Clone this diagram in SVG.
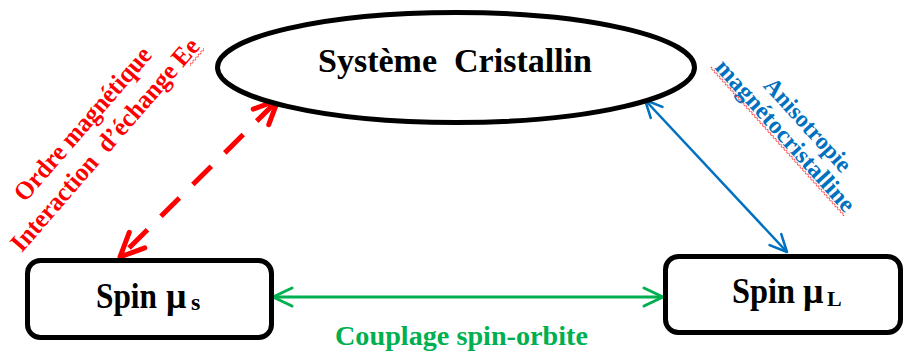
<svg xmlns="http://www.w3.org/2000/svg" width="904" height="356" viewBox="0 0 904 356">
  <style>
    .t { font-family: "Liberation Serif", "Times New Roman", serif; font-weight: bold; white-space: pre; }
    .node { fill: #FFFFFF; stroke: #000000; stroke-width: 5; }
    .red { fill: #FF0000; }
    .blue { fill: #0070C0; }
    .green { fill: #00B050; }
  </style>
  <defs>
    <marker id="ahRed" markerUnits="userSpaceOnUse" markerWidth="40" markerHeight="40" viewBox="-30 -20 40 40" refX="0" refY="0" orient="auto-start-reverse" overflow="visible">
      <path d="M-24,-11 L0,0 L-24,11" fill="none" stroke="#FF0000" stroke-width="5" stroke-linecap="round" stroke-linejoin="round"/>
    </marker>
    <marker id="ahBlue" markerUnits="userSpaceOnUse" markerWidth="40" markerHeight="40" viewBox="-30 -20 40 40" refX="0" refY="0" orient="auto-start-reverse" overflow="visible">
      <path d="M-17,-8 L0,0 L-17,8" fill="none" stroke="#0070C0" stroke-width="2.5" stroke-linecap="round" stroke-linejoin="round"/>
    </marker>
    <marker id="ahGreen" markerUnits="userSpaceOnUse" markerWidth="40" markerHeight="40" viewBox="-30 -20 40 40" refX="0" refY="0" orient="auto-start-reverse" overflow="visible">
      <path d="M-19,-9 L0,0 L-19,9" fill="none" stroke="#00B050" stroke-width="3" stroke-linecap="round" stroke-linejoin="round"/>
    </marker>
    <pattern id="wavy" patternUnits="userSpaceOnUse" width="4" height="4">
      <path d="M0,3 L2,1 L4,3" fill="none" stroke="#FF3030" stroke-width="0.9"/>
    </pattern>
  </defs>

  <g id="connectors">
    <path id="c-red" d="M278,100 L120,257" fill="none" stroke="#FF0000" stroke-width="5" stroke-dasharray="26 19" stroke-dashoffset="41" marker-start="url(#ahRed)" marker-end="url(#ahRed)"/>
    <path id="c-blue" d="M645,100 L787,252" fill="none" stroke="#0070C0" stroke-width="2.5" marker-start="url(#ahBlue)" marker-end="url(#ahBlue)"/>
    <path id="c-green" d="M273,297 L663,297" fill="none" stroke="#00B050" stroke-width="3" marker-start="url(#ahGreen)" marker-end="url(#ahGreen)"/>
  </g>

  <g id="systeme-cristallin">
    <ellipse class="node" cx="456" cy="67.5" rx="238.5" ry="55"/>
    <text class="t" x="318" y="72" font-size="33" textLength="274" lengthAdjust="spacingAndGlyphs">Système  Cristallin</text>
  </g>

  <g id="spin-s">
    <rect class="node" x="27.5" y="260.5" width="244" height="77" rx="13"/>
    <text class="t" x="96" y="308" font-size="36" textLength="61" lengthAdjust="spacingAndGlyphs">Spin</text>
    <text class="t" x="166" y="308" font-size="36">μ</text>
    <text class="t" x="191" y="310" font-size="24">s</text>
  </g>

  <g id="spin-l">
    <rect class="node" x="665.5" y="256.5" width="235" height="76" rx="13"/>
    <text class="t" x="732" y="303" font-size="36" textLength="63" lengthAdjust="spacingAndGlyphs">Spin</text>
    <text class="t" x="803" y="303" font-size="36">μ</text>
    <text class="t" x="827" y="306" font-size="22">L</text>
  </g>

  <g id="label-red" transform="translate(25,203) rotate(-49)">
    <text class="t red" x="0" y="0" font-size="26" textLength="195" lengthAdjust="spacingAndGlyphs">Ordre magnétique</text>
    <text class="t red" x="-40" y="30.5" font-size="26" textLength="273" lengthAdjust="spacingAndGlyphs">Interaction  d’échange Ee</text>
    <rect x="212" y="32" width="22" height="4" fill="url(#wavy)"/>
  </g>

  <g id="label-blue" transform="translate(714,68) rotate(48)">
    <text class="t blue" x="46" y="-24" font-size="24" textLength="118" lengthAdjust="spacingAndGlyphs">Anisotropie</text>
    <text class="t blue" x="0" y="0" font-size="24" textLength="196" lengthAdjust="spacingAndGlyphs">magnétocristalline</text>
    <rect x="-3" y="0" width="200" height="4" fill="url(#wavy)"/>
  </g>

  <g id="label-green">
    <text class="t green" x="335" y="345" font-size="27" textLength="253" lengthAdjust="spacingAndGlyphs">Couplage spin-orbite</text>
  </g>
</svg>
